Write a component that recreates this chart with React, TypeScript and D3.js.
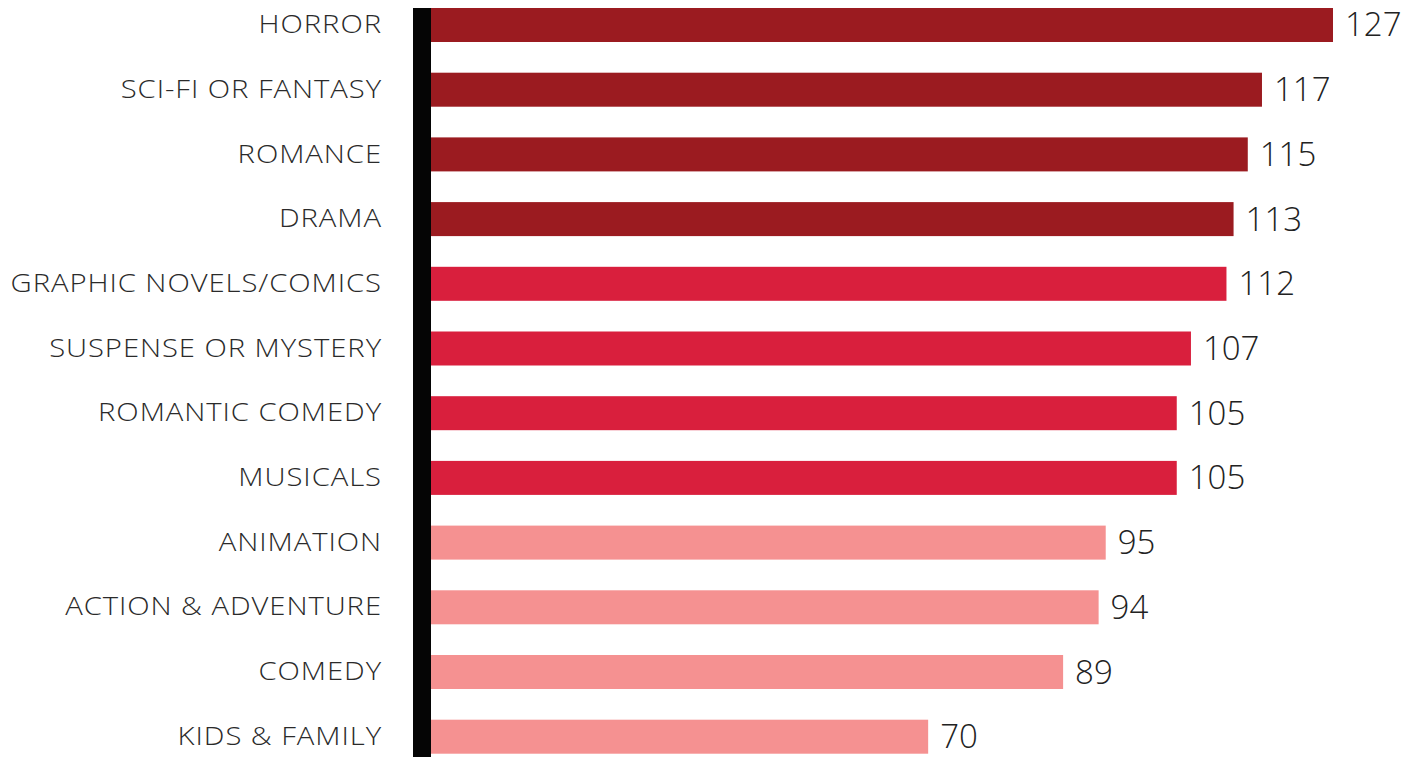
import React from "react";
import * as d3 from "d3";

const categories = [
  "HORROR",
  "SCI-FI OR FANTASY",
  "ROMANCE",
  "DRAMA",
  "GRAPHIC NOVELS/COMICS",
  "SUSPENSE OR MYSTERY",
  "ROMANTIC COMEDY",
  "MUSICALS",
  "ANIMATION",
  "ACTION & ADVENTURE",
  "COMEDY",
  "KIDS & FAMILY",
];
const values = [127, 117, 115, 113, 112, 107, 105, 105, 95, 94, 89, 70];
const groups = ["top", "top", "top", "top", "mid", "mid", "mid", "mid", "low", "low", "low", "low"];
const groupColors: Record<string, string> = {
  top: "#9b1b20",
  mid: "#d91f3d",
  low: "#f59191",
};

const W = 1415;
const H = 757;
const x0 = 431;

export default function App() {
  const x = d3.scaleLinear().domain([0, 127]).range([x0, 1333]);
  const y = d3
    .scaleBand<string>()
    .domain(categories)
    .range([8, 753.7])
    .paddingInner(0.4745)
    .paddingOuter(0);
  const bw = y.bandwidth();
  const font = "'Open Sans', Lato, sans-serif";
  return (
    <svg
      width={W}
      height={H}
      style={{ position: "absolute", left: 0, top: 0, background: "#fff" }}
    >
      {categories.map((c, i) => {
        const yy = y(c)!;
        return (
          <g key={c}>
            <rect
              x={x(0)}
              y={yy}
              width={x(values[i]) - x(0)}
              height={bw}
              fill={groupColors[groups[i]]}
            />
            <text
              transform={`translate(382,${yy + bw / 2 - 1.5}) scale(1.17,1)`}
              textAnchor="end"
              dominantBaseline="central"
              fontFamily={font}
              fontWeight={300}
              fontSize={25}
              letterSpacing={0.8}
              fill="#2a2a2a"
            >
              {c}
            </text>
            <text
              x={x(values[i]) + 12}
              y={yy + bw / 2 - 1}
              textAnchor="start"
              dominantBaseline="central"
              fontFamily={font}
              fontWeight={300}
              fontSize={33}
              fill="#222"
            >
              {values[i]}
            </text>
          </g>
        );
      })}
      <rect x={413} y={8} width={18} height={H - 8} fill="#050505" />
    </svg>
  );
}
